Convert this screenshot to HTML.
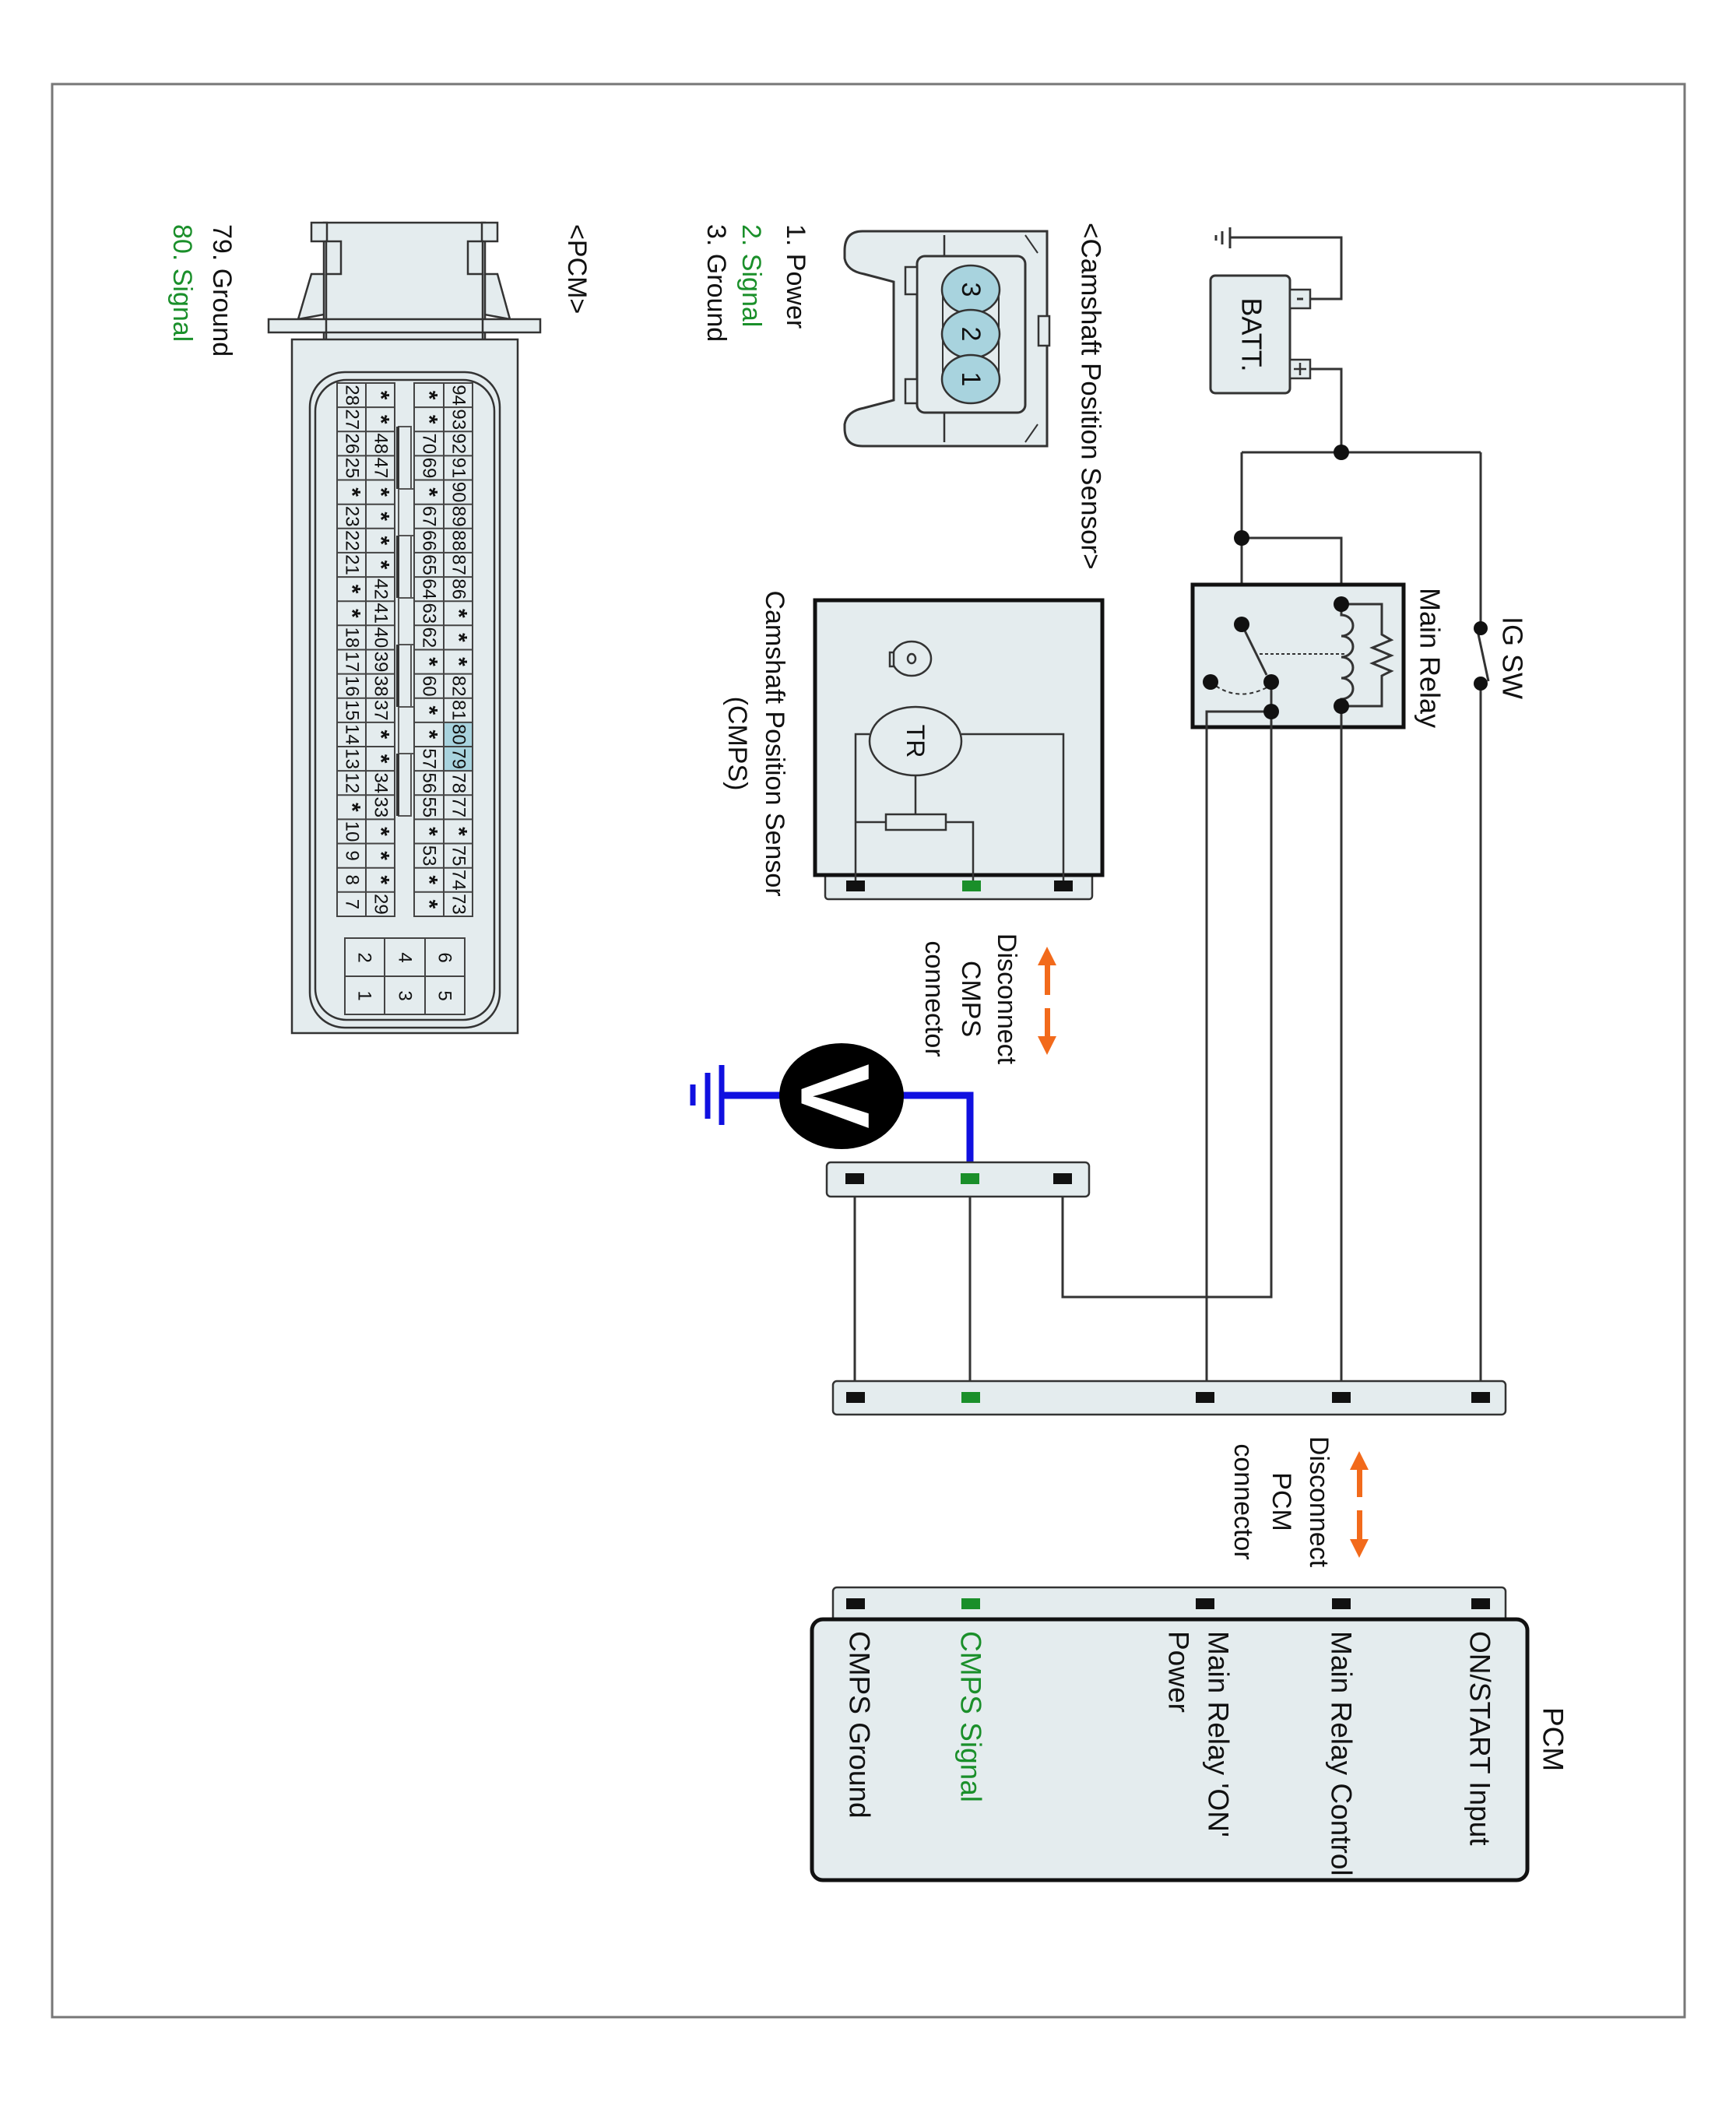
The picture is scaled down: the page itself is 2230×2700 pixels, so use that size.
<!DOCTYPE html>
<html><head><meta charset="utf-8"><style>
html,body{margin:0;padding:0;background:#fff}
svg{display:block}
text{font-family:"Liberation Sans",Arial,sans-serif;fill:#111}
</style></head><body>
<svg width="2230" height="2700" viewBox="0 0 2230 2700" xmlns="http://www.w3.org/2000/svg">
<defs>
<g id="pin"><rect x="-12" y="-7" width="24" height="14" fill="#111"/></g>
<g id="gpin"><rect x="-12" y="-7" width="24" height="14" fill="#1a8f2a"/></g>
</defs>
<rect x="67" y="108" width="2097" height="2483" fill="none" stroke="#777" stroke-width="3"/>

<!-- Battery -->
<g stroke="#333" stroke-width="3" fill="none">
<polyline points="1580,305 1723,305 1723,384 1683,384"/>
<line x1="1580" y1="292" x2="1580" y2="319"/>
<line x1="1570" y1="297" x2="1570" y2="314"/>
<line x1="1562" y1="302" x2="1562" y2="309"/>
<polyline points="1683,474 1723,474 1723,581"/>
<line x1="1595" y1="581" x2="1902" y2="581"/>
<line x1="1595" y1="581" x2="1595" y2="802"/>
<line x1="1902" y1="581" x2="1902" y2="807"/>
<polyline points="1595,691 1723,691 1723,776"/>
</g>
<rect x="1555" y="354" width="102" height="151" rx="6" fill="#e4ecee" stroke="#333" stroke-width="3"/>
<rect x="1657" y="372" width="26" height="24" fill="#e4ecee" stroke="#333" stroke-width="2.5"/>
<rect x="1657" y="462" width="26" height="24" fill="#e4ecee" stroke="#333" stroke-width="2.5"/>
<line x1="1666" y1="384" x2="1674" y2="384" stroke="#333" stroke-width="3"/>
<line x1="1662" y1="474" x2="1678" y2="474" stroke="#333" stroke-width="2.5"/>
<line x1="1670" y1="466" x2="1670" y2="482" stroke="#333" stroke-width="2.5"/>
<text transform="translate(1608,430) rotate(90)" text-anchor="middle" dominant-baseline="central" font-size="36">BATT.</text>

<!-- Main relay -->
<rect x="1532" y="751" width="271" height="183" fill="#e4ecee" stroke="#111" stroke-width="5"/>
<g stroke="#333" stroke-width="3" fill="none">
<line x1="1595" y1="802" x2="1627" y2="867"/>
<path d="M1555,876 Q1590,905 1633,880" stroke-dasharray="5,4" stroke-width="2"/>
<line x1="1618" y1="840" x2="1727" y2="840" stroke-dasharray="4,3" stroke-width="2"/>
<path d="M1723,776 L1723,790 a15,13.5 0 0 1 0,27 a15,13.5 0 0 1 0,27 a15,13.5 0 0 1 0,27 a15,13.5 0 0 1 0,27 L1723,907"/>
<polyline points="1723,776 1775,776 1775,815 1787,822 1763,832 1787,842 1763,852 1787,862 1775,868 1775,907 1723,907"/>
<line x1="1898" y1="810" x2="1912" y2="875"/>
<polyline points="1550,1795 1550,914 1633,914"/>
<polyline points="1633,876 1633,1666 1365,1666 1365,1514"/>
<line x1="1723" y1="907" x2="1723" y2="1795"/>
<line x1="1902" y1="878" x2="1902" y2="1795"/>
<line x1="1098" y1="1514" x2="1098" y2="1795"/>
<line x1="1246" y1="1514" x2="1246" y2="1795"/>
</g>
<g fill="#111">
<circle cx="1723" cy="581" r="10"/><circle cx="1595" cy="691" r="10"/>
<circle cx="1595" cy="802" r="10"/><circle cx="1633" cy="876" r="10"/>
<circle cx="1555" cy="876" r="10"/><circle cx="1633" cy="914" r="10"/>
<circle cx="1723" cy="776" r="10"/><circle cx="1723" cy="907" r="10"/>
<circle cx="1902" cy="807" r="9"/><circle cx="1902" cy="878" r="9"/>
</g>
<text transform="translate(1837,755) rotate(90)" dominant-baseline="central" font-size="36">Main Relay</text>
<text transform="translate(1943,792) rotate(90)" dominant-baseline="central" font-size="36">IG SW</text>

<!-- Sensor connector drawing -->
<text transform="translate(1401,286) rotate(90)" dominant-baseline="central" font-size="35">&lt;Camshaft Position Sensor&gt;</text>
<path d="M1345,297 L1108,297 Q1085,297 1085,322 L1085,332 Q1088,348 1110,352 L1148,362 L1148,514 L1110,524 Q1088,528 1085,545 L1085,550 Q1085,573 1108,573 L1345,573 Z" fill="#e4ecee" stroke="#333" stroke-width="3"/>
<rect x="1334" y="406" width="14" height="38" fill="#e4ecee" stroke="#333" stroke-width="2.5"/>
<line x1="1213" y1="302" x2="1213" y2="329" stroke="#333" stroke-width="2.5"/>
<line x1="1213" y1="530" x2="1213" y2="568" stroke="#333" stroke-width="2.5"/>
<line x1="1317" y1="302" x2="1333" y2="325" stroke="#333" stroke-width="2"/>
<line x1="1317" y1="568" x2="1333" y2="545" stroke="#333" stroke-width="2"/>
<rect x="1178" y="329" width="139" height="201" rx="10" fill="#e4ecee" stroke="#333" stroke-width="3"/>
<rect x="1163" y="343" width="15" height="35" fill="#e4ecee" stroke="#333" stroke-width="2.5"/>
<rect x="1163" y="487" width="15" height="31" fill="#e4ecee" stroke="#333" stroke-width="2.5"/>
<rect x="1211" y="372" width="72" height="115" fill="#e4ecee" stroke="#333" stroke-width="2"/>
<g fill="#a8d3de" stroke="#333" stroke-width="2.5">
<ellipse cx="1247" cy="372" rx="37" ry="31"/><ellipse cx="1247" cy="429" rx="37" ry="31"/><ellipse cx="1247" cy="487" rx="37" ry="31"/>
</g>
<g font-size="34" text-anchor="middle" dominant-baseline="central">
<text transform="translate(1247,372) rotate(90)">3</text>
<text transform="translate(1247,429) rotate(90)">2</text>
<text transform="translate(1247,487) rotate(90)">1</text>
</g>
<g font-size="34" dominant-baseline="central">
<text transform="translate(1022,288) rotate(90)">1. Power</text>
<text transform="translate(965,288) rotate(90)" style="fill:#1a8f2a">2. Signal</text>
<text transform="translate(920,288) rotate(90)">3. Ground</text>
<text transform="translate(741,288) rotate(90)">&lt;PCM&gt;</text>
<text transform="translate(285,288) rotate(90)">79. Ground</text>
<text transform="translate(234,288) rotate(90)" style="fill:#1a8f2a">80. Signal</text>
</g>

<!-- CMPS sensor -->
<rect x="1060" y="1122" width="343" height="33" rx="4" fill="#e4ecee" stroke="#333" stroke-width="2.5"/>
<rect x="1047" y="771" width="369" height="353" fill="#e4ecee" stroke="#111" stroke-width="5"/>
<g stroke="#333" stroke-width="2.5" fill="none">
<polyline points="1117,943 1099,943 1099,1138"/>
<line x1="1176" y1="995" x2="1176" y2="1046"/>
<line x1="1138" y1="1056" x2="1099" y2="1056"/>
<polyline points="1215,1056 1250,1056 1250,1138"/>
<polyline points="1235,943 1366,943 1366,1138"/>
<rect x="1138" y="1046" width="77" height="20" fill="#e4ecee"/>
<ellipse cx="1176" cy="952" rx="59" ry="44" fill="#e4ecee"/>
<ellipse cx="1171" cy="846" rx="25" ry="22" fill="#e4ecee"/>
<rect x="1143" y="838" width="5" height="18" fill="#e4ecee"/>
<ellipse cx="1171" cy="846" rx="5" ry="6"/>
</g>
<text transform="translate(1176,952) rotate(90)" text-anchor="middle" dominant-baseline="central" font-size="32">TR</text>
<use href="#pin" x="1099" y="1138"/><use href="#gpin" x="1248" y="1138"/><use href="#pin" x="1366" y="1138"/>
<g font-size="34" text-anchor="middle" dominant-baseline="central">
<text transform="translate(995,955) rotate(90)">Camshaft Position Sensor</text>
<text transform="translate(947,955) rotate(90)">(CMPS)</text>
<text transform="translate(1293,1283) rotate(90)">Disconnect</text>
<text transform="translate(1247,1283) rotate(90)">CMPS</text>
<text transform="translate(1200,1283) rotate(90)">connector</text>
<text transform="translate(1694,1929) rotate(90)">Disconnect</text>
<text transform="translate(1646,1929) rotate(90)">PCM</text>
<text transform="translate(1597,1929) rotate(90)">connector</text>
</g>
<!-- orange arrows -->
<g fill="#f26a1b" stroke="none">
<rect x="1342" y="1238" width="7" height="40"/><polygon points="1345,1216 1333,1240 1357,1240"/>
<rect x="1342" y="1295" width="7" height="38"/><polygon points="1345,1355 1333,1331 1357,1331"/>
<rect x="1743" y="1885" width="7" height="38"/><polygon points="1746,1864 1734,1888 1758,1888"/>
<rect x="1743" y="1940" width="7" height="40"/><polygon points="1746,2001 1734,1977 1758,1977"/>
</g>

<!-- Voltmeter -->
<g stroke="#1010e0" stroke-width="9" fill="none">
<polyline points="1150,1407 1246,1407 1246,1514"/>
<line x1="1010" y1="1407" x2="927" y2="1407"/>
<line x1="927" y1="1368" x2="927" y2="1445" stroke-width="7"/>
<line x1="909" y1="1378" x2="909" y2="1437" stroke-width="7"/>
<line x1="890" y1="1393" x2="890" y2="1420" stroke-width="7"/>
</g>
<ellipse cx="1081" cy="1408" rx="80" ry="68" fill="#000"/>
<text transform="translate(1072,1408) rotate(90)" text-anchor="middle" dominant-baseline="central" font-size="125" font-weight="bold" style="fill:#fff">V</text>

<!-- CMPS harness connector -->
<rect x="1062" y="1493" width="337" height="44" rx="5" fill="#e4ecee" stroke="#333" stroke-width="2.5"/>
<use href="#pin" x="1098" y="1514"/><use href="#gpin" x="1246" y="1514"/><use href="#pin" x="1365" y="1514"/>

<!-- Big strip -->
<rect x="1070" y="1774" width="864" height="43" rx="5" fill="#e4ecee" stroke="#333" stroke-width="2.5"/>
<use href="#pin" x="1099" y="1795"/><use href="#gpin" x="1247" y="1795"/><use href="#pin" x="1548" y="1795"/><use href="#pin" x="1723" y="1795"/><use href="#pin" x="1902" y="1795"/>

<!-- PCM -->
<rect x="1070" y="2039" width="864" height="50" rx="5" fill="#e4ecee" stroke="#333" stroke-width="2.5"/>
<use href="#pin" x="1099" y="2060"/><use href="#gpin" x="1247" y="2060"/><use href="#pin" x="1548" y="2060"/><use href="#pin" x="1723" y="2060"/><use href="#pin" x="1902" y="2060"/>
<rect x="1043" y="2080" width="919" height="335" rx="14" fill="#e4ecee" stroke="#111" stroke-width="5"/>
<g font-size="37" dominant-baseline="central">
<text transform="translate(1901,2095) rotate(90)">ON/START Input</text>
<text transform="translate(1723,2095) rotate(90)">Main Relay Control</text>
<text transform="translate(1565,2095) rotate(90)">Main Relay 'ON'</text>
<text transform="translate(1514,2095) rotate(90)">Power</text>
<text transform="translate(1247,2095) rotate(90)" style="fill:#1a8f2a">CMPS Signal</text>
<text transform="translate(1104,2095) rotate(90)">CMPS Ground</text>
<text transform="translate(1995,2193) rotate(90)">PCM</text>
</g>

<!-- PCM connector drawing -->
<g fill="#e4ecee" stroke="#333" stroke-width="2.5">
<polygon points="419,352 438,352 438,400 383,410 400,352"/>
<polygon points="620,352 639,352 655,410 601,400 601,352"/>
<rect x="416" y="286" width="207" height="151"/>
<rect x="400" y="286" width="20" height="24"/>
<rect x="419" y="310" width="19" height="42"/>
<rect x="619" y="286" width="20" height="24"/>
<rect x="601" y="310" width="19" height="42"/>
<rect x="345" y="410" width="349" height="17"/>
<line x1="419" y1="352" x2="419" y2="437"/>
<line x1="620" y1="352" x2="620" y2="437"/>
<rect x="375" y="436" width="290" height="891"/>
<rect x="398" y="478" width="244" height="842" rx="45"/>
<rect x="405" y="488" width="230" height="822" rx="40"/>
</g>
<g fill="#e4ecee" stroke="#555" stroke-width="2">
<rect x="512" y="548" width="16" height="80"/><rect x="512" y="628" width="20" height="60"/>
<rect x="512" y="688" width="16" height="80"/><rect x="512" y="768" width="20" height="60"/>
<rect x="512" y="828" width="16" height="80"/><rect x="512" y="908" width="20" height="60"/>
<rect x="512" y="968" width="16" height="80"/>
</g>
<g stroke="#333" stroke-width="4"><line x1="511" y1="548" x2="511" y2="628"/><line x1="511" y1="688" x2="511" y2="768"/><line x1="511" y1="828" x2="511" y2="908"/><line x1="511" y1="968" x2="511" y2="1048"/></g>
<rect x="570" y="928" width="37" height="62" fill="#a8d3de"/>
<g id="grid" fill="none" stroke="#444" stroke-width="2">
<rect x="433" y="492" width="74" height="685"/>
<rect x="532" y="492" width="75" height="685"/>
<line x1="470" y1="492" x2="470" y2="1177"/>
<line x1="570" y1="492" x2="570" y2="1177"/>
<path d="M433,523.1h74M433,554.3h74M433,585.4h74M433,616.5h74M433,647.7h74M433,678.8h74M433,709.9h74M433,741.1h74M433,772.2h74M433,803.3h74M433,834.5h74M433,865.6h74M433,896.7h74M433,927.9h74M433,959h74M433,990.1h74M433,1021.3h74M433,1052.4h74M433,1083.5h74M433,1114.7h74M433,1145.8h74"/>
<path d="M532,523.1h75M532,554.3h75M532,585.4h75M532,616.5h75M532,647.7h75M532,678.8h75M532,709.9h75M532,741.1h75M532,772.2h75M532,803.3h75M532,834.5h75M532,865.6h75M532,896.7h75M532,927.9h75M532,959h75M532,990.1h75M532,1021.3h75M532,1052.4h75M532,1083.5h75M532,1114.7h75M532,1145.8h75"/>
<rect x="443" y="1205" width="154" height="98" fill="#e4ecee"/>
<line x1="494" y1="1205" x2="494" y2="1303"/><line x1="546" y1="1205" x2="546" y2="1303"/><line x1="443" y1="1254" x2="597" y2="1254"/>
</g>
<g font-size="24" text-anchor="middle" dominant-baseline="central" id="nums">
<!-- col x=589 -->
<text transform="translate(589,507.6) rotate(90)">94</text><text transform="translate(589,538.7) rotate(90)">93</text><text transform="translate(589,569.8) rotate(90)">92</text><text transform="translate(589,601) rotate(90)">91</text><text transform="translate(589,632.1) rotate(90)">90</text><text transform="translate(589,663.2) rotate(90)">89</text><text transform="translate(589,694.4) rotate(90)">88</text><text transform="translate(589,725.5) rotate(90)">87</text><text transform="translate(589,756.6) rotate(90)">86</text><text transform="translate(589,787.8) rotate(90)" font-size="30" font-weight="bold">*</text><text transform="translate(589,818.9) rotate(90)" font-size="30" font-weight="bold">*</text><text transform="translate(589,850) rotate(90)" font-size="30" font-weight="bold">*</text><text transform="translate(589,881.2) rotate(90)">82</text><text transform="translate(589,912.3) rotate(90)">81</text><text transform="translate(589,943.4) rotate(90)">80</text><text transform="translate(589,974.6) rotate(90)">79</text><text transform="translate(589,1005.7) rotate(90)">78</text><text transform="translate(589,1036.8) rotate(90)">77</text><text transform="translate(589,1068) rotate(90)" font-size="30" font-weight="bold">*</text><text transform="translate(589,1099.1) rotate(90)">75</text><text transform="translate(589,1130.2) rotate(90)">74</text><text transform="translate(589,1161.4) rotate(90)">73</text>
<!-- col x=551 -->
<text transform="translate(551,507.6) rotate(90)" font-size="30" font-weight="bold">*</text><text transform="translate(551,538.7) rotate(90)" font-size="30" font-weight="bold">*</text><text transform="translate(551,569.8) rotate(90)">70</text><text transform="translate(551,601) rotate(90)">69</text><text transform="translate(551,632.1) rotate(90)" font-size="30" font-weight="bold">*</text><text transform="translate(551,663.2) rotate(90)">67</text><text transform="translate(551,694.4) rotate(90)">66</text><text transform="translate(551,725.5) rotate(90)">65</text><text transform="translate(551,756.6) rotate(90)">64</text><text transform="translate(551,787.8) rotate(90)">63</text><text transform="translate(551,818.9) rotate(90)">62</text><text transform="translate(551,850) rotate(90)" font-size="30" font-weight="bold">*</text><text transform="translate(551,881.2) rotate(90)">60</text><text transform="translate(551,912.3) rotate(90)" font-size="30" font-weight="bold">*</text><text transform="translate(551,943.4) rotate(90)" font-size="30" font-weight="bold">*</text><text transform="translate(551,974.6) rotate(90)">57</text><text transform="translate(551,1005.7) rotate(90)">56</text><text transform="translate(551,1036.8) rotate(90)">55</text><text transform="translate(551,1068) rotate(90)" font-size="30" font-weight="bold">*</text><text transform="translate(551,1099.1) rotate(90)">53</text><text transform="translate(551,1130.2) rotate(90)" font-size="30" font-weight="bold">*</text><text transform="translate(551,1161.4) rotate(90)" font-size="30" font-weight="bold">*</text>
<!-- col x=489 -->
<text transform="translate(489,507.6) rotate(90)" font-size="30" font-weight="bold">*</text><text transform="translate(489,538.7) rotate(90)" font-size="30" font-weight="bold">*</text><text transform="translate(489,569.8) rotate(90)">48</text><text transform="translate(489,601) rotate(90)">47</text><text transform="translate(489,632.1) rotate(90)" font-size="30" font-weight="bold">*</text><text transform="translate(489,663.2) rotate(90)" font-size="30" font-weight="bold">*</text><text transform="translate(489,694.4) rotate(90)" font-size="30" font-weight="bold">*</text><text transform="translate(489,725.5) rotate(90)" font-size="30" font-weight="bold">*</text><text transform="translate(489,756.6) rotate(90)">42</text><text transform="translate(489,787.8) rotate(90)">41</text><text transform="translate(489,818.9) rotate(90)">40</text><text transform="translate(489,850) rotate(90)">39</text><text transform="translate(489,881.2) rotate(90)">38</text><text transform="translate(489,912.3) rotate(90)">37</text><text transform="translate(489,943.4) rotate(90)" font-size="30" font-weight="bold">*</text><text transform="translate(489,974.6) rotate(90)" font-size="30" font-weight="bold">*</text><text transform="translate(489,1005.7) rotate(90)">34</text><text transform="translate(489,1036.8) rotate(90)">33</text><text transform="translate(489,1068) rotate(90)" font-size="30" font-weight="bold">*</text><text transform="translate(489,1099.1) rotate(90)" font-size="30" font-weight="bold">*</text><text transform="translate(489,1130.2) rotate(90)" font-size="30" font-weight="bold">*</text><text transform="translate(489,1161.4) rotate(90)">29</text>
<!-- col x=452 -->
<text transform="translate(452,507.6) rotate(90)">28</text><text transform="translate(452,538.7) rotate(90)">27</text><text transform="translate(452,569.8) rotate(90)">26</text><text transform="translate(452,601) rotate(90)">25</text><text transform="translate(452,632.1) rotate(90)" font-size="30" font-weight="bold">*</text><text transform="translate(452,663.2) rotate(90)">23</text><text transform="translate(452,694.4) rotate(90)">22</text><text transform="translate(452,725.5) rotate(90)">21</text><text transform="translate(452,756.6) rotate(90)" font-size="30" font-weight="bold">*</text><text transform="translate(452,787.8) rotate(90)" font-size="30" font-weight="bold">*</text><text transform="translate(452,818.9) rotate(90)">18</text><text transform="translate(452,850) rotate(90)">17</text><text transform="translate(452,881.2) rotate(90)">16</text><text transform="translate(452,912.3) rotate(90)">15</text><text transform="translate(452,943.4) rotate(90)">14</text><text transform="translate(452,974.6) rotate(90)">13</text><text transform="translate(452,1005.7) rotate(90)">12</text><text transform="translate(452,1036.8) rotate(90)" font-size="30" font-weight="bold">*</text><text transform="translate(452,1068) rotate(90)">10</text><text transform="translate(452,1099.1) rotate(90)">9</text><text transform="translate(452,1130.2) rotate(90)">8</text><text transform="translate(452,1161.4) rotate(90)">7</text>
<!-- 6-pin -->
<text transform="translate(571,1230) rotate(90)">6</text><text transform="translate(571,1279) rotate(90)">5</text>
<text transform="translate(520,1230) rotate(90)">4</text><text transform="translate(520,1279) rotate(90)">3</text>
<text transform="translate(468,1230) rotate(90)">2</text><text transform="translate(468,1279) rotate(90)">1</text>
</g>
</svg>
</body></html>
